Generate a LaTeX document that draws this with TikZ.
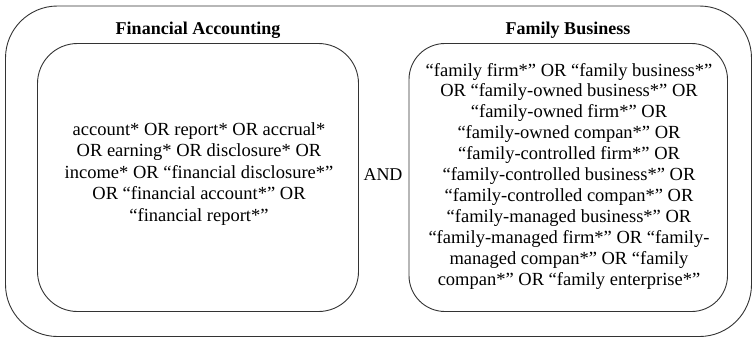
\documentclass[tikz,border=0pt]{standalone}
\usepackage{fontspec}
\setmainfont{Liberation Serif}
\begin{document}
\begin{tikzpicture}[x=1pt,y=-1pt,
  frame/.style={draw=black!80, line width=0.9pt},
  box/.style={frame, rounded corners=40pt},
  body/.style={align=center, font=\fontsize{18.5}{21.5}\selectfont, inner sep=0pt},
  title/.style={font=\fontsize{18}{21}\selectfont\bfseries, inner sep=0pt}]
\useasboundingbox (0,0) rectangle (752,338);
\draw[frame, rounded corners=52pt] (5.5,6) rectangle (751.5,336.5);
\draw[box] (37.5,43.5) rectangle (358.5,311.5);
\draw[box, rounded corners=36pt] (409,43.5) rectangle (727.5,311.5);
\node[title] (t1) at (198,30) {Financial Accounting};
\node[title] (t2) at (568,30) {Family Business};
\node[body] (fa) at (199,174) {account* OR report* OR accrual*\\
OR earning* OR disclosure* OR\\
income* OR “financial disclosure*”\\
OR “financial account*” OR\\
“financial report*”};
\node[body, font=\fontsize{18.5}{20.9}\selectfont] (fb) at (569,176) {“family firm*” OR “family business*”\\
OR “family-owned business*” OR\\
“family-owned firm*” OR\\
“family-owned compan*” OR\\
“family-controlled firm*” OR\\
“family-controlled business*” OR\\
“family-controlled compan*” OR\\
“family-managed business*” OR\\
“family-managed firm*” OR “family-\\
managed compan*” OR “family\\
compan*” OR “family enterprise*”};
\node[body, font=\fontsize{18}{21}\selectfont] (and) at (383,174.5) {AND};
\end{tikzpicture}
\end{document}
